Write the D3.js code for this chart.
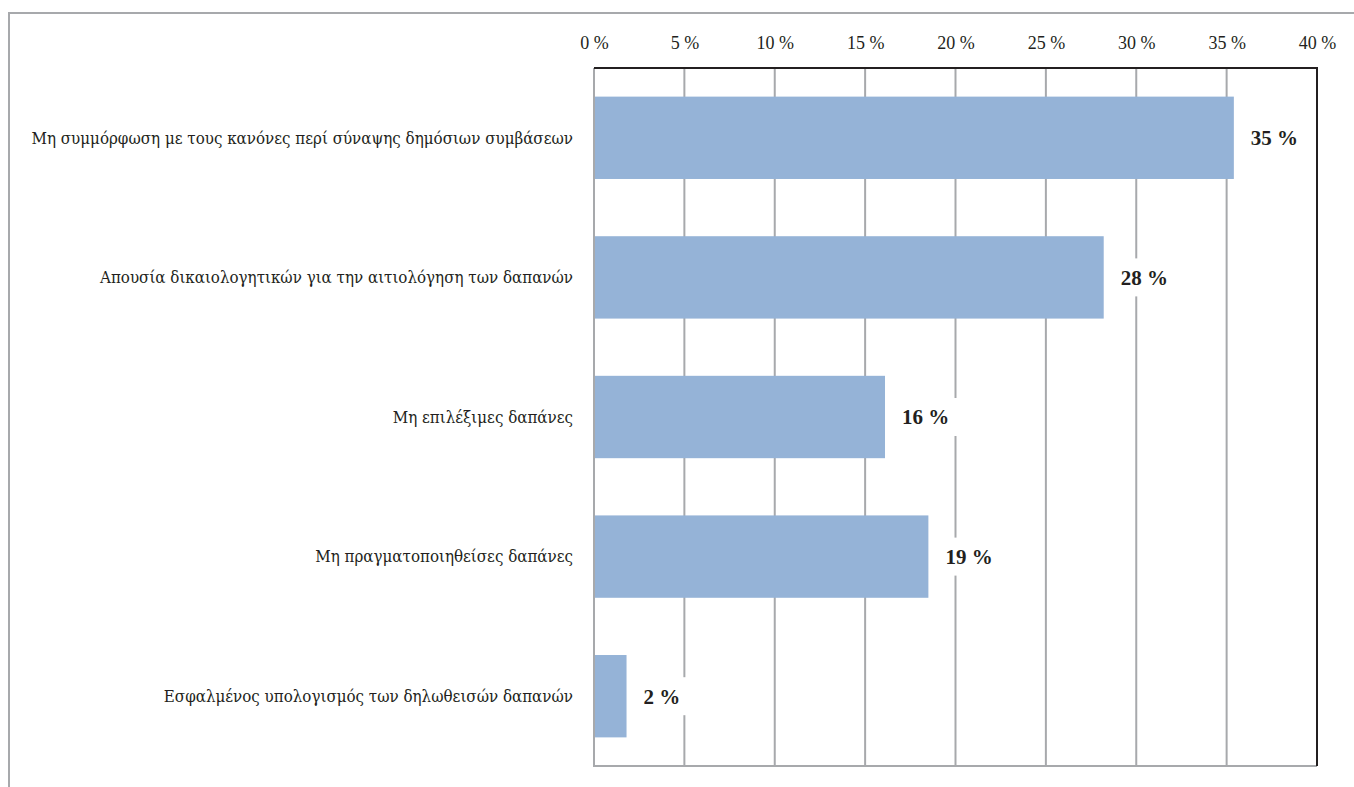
<!DOCTYPE html>
<html>
<head>
<meta charset="utf-8">
<script src="https://cdn.jsdelivr.net/npm/d3@7"></script>
<style>
  html, body { margin: 0; padding: 0; background: #fff; }
  svg { display: block; }
</style>
</head>
<body>
<svg id="chart" width="1354" height="787"></svg>
<script>
// Categories of errors (top to bottom) and their share of the total
const categories = [
  "Μη συμμόρφωση με τους κανόνες περί σύναψης δημόσιων συμβάσεων",
  "Απουσία δικαιολογητικών για την αιτιολόγηση των δαπανών",
  "Μη επιλέξιμες δαπάνες",
  "Μη πραγματοποιηθείσες δαπάνες",
  "Εσφαλμένος υπολογισμός των δηλωθεισών δαπανών"
];
const shares = [35.4, 28.2, 16.1, 18.5, 1.8];
const tickValues = [0, 5, 10, 15, 20, 25, 30, 35, 40];

const svg = d3.select("#chart");
const serif = "'Liberation Serif', 'Times New Roman', serif";
const greekSerif = "'DejaVu Serif Condensed', 'DejaVu Serif', serif";
const ink = "#231f20";
const grey = "#a7a9ac";

const plot = { left: 594, right: 1317, top: 68, bottom: 766 };

const x = d3.scaleLinear().domain([0, 40]).range([plot.left, plot.right]);
const y = d3.scaleBand().domain(categories).range([plot.top, plot.bottom]).paddingInner(0.41).paddingOuter(0.205);

// outer frame
svg.append("path")
  .attr("d", `M9,787 V13 H1354`)
  .attr("fill", "none").attr("stroke", grey).attr("stroke-width", 2);

// vertical gridlines
svg.append("g")
  .selectAll("line")
  .data(tickValues.slice(1, -1))
  .join("line")
  .attr("x1", d => x(d)).attr("x2", d => x(d))
  .attr("y1", plot.top).attr("y2", plot.bottom)
  .attr("stroke", grey).attr("stroke-width", 2);

// left and bottom axis lines
svg.append("path")
  .attr("d", `M${plot.left},${plot.top} V${plot.bottom} H${plot.right}`)
  .attr("fill", "none").attr("stroke", grey).attr("stroke-width", 2);

// top and right frame lines
svg.append("path")
  .attr("d", `M${plot.left},${plot.top} H${plot.right} V${plot.bottom}`)
  .attr("fill", "none").attr("stroke", ink).attr("stroke-width", 2);

// top axis labels
const axisTop = d3.axisTop(x).tickValues(tickValues).tickSize(0).tickPadding(0)
  .tickFormat(d => d + " %");
const ax = svg.append("g").attr("transform", `translate(0,49)`).call(axisTop);
ax.select(".domain").remove();
ax.selectAll("text")
  .attr("font-family", serif).attr("font-size", 18).attr("fill", ink);

// bars
svg.append("g")
  .selectAll("rect")
  .data(shares)
  .join("rect")
  .attr("x", x(0) + 1)
  .attr("y", (d, i) => y(categories[i]))
  .attr("width", d => x(d) - x(0) - 1)
  .attr("height", y.bandwidth())
  .attr("fill", "#95b3d7");

// category labels
svg.append("g")
  .selectAll("text")
  .data(categories)
  .join("text")
  .attr("x", plot.left - 21)
  .attr("y", d => y(d) + y.bandwidth() / 2)
  .attr("dy", "0.35em")
  .attr("text-anchor", "end")
  .attr("font-family", greekSerif).attr("font-size", 16.8).attr("fill", ink)
  .text(d => d);

// value labels on white boxes
const fmt = d3.format(".0f");
const vl = svg.append("g")
  .selectAll("g")
  .data(shares)
  .join("g")
  .attr("transform", (d, i) => `translate(${x(d) + 8},${y(categories[i]) + y.bandwidth() / 2})`);
vl.append("rect").attr("class", "bg").attr("fill", "#fff");
vl.append("text")
  .attr("x", 9)
  .attr("dy", "0.35em")
  .attr("font-family", serif).attr("font-size", 21).attr("font-weight", "bold").attr("fill", ink)
  .text(d => fmt(d) + " %");
vl.each(function() {
  const g = d3.select(this);
  const w = g.select("text").node().getComputedTextLength();
  g.select("rect").attr("x", 0).attr("y", -19).attr("width", w + 17).attr("height", 38);
});
</script>
</body>
</html>
